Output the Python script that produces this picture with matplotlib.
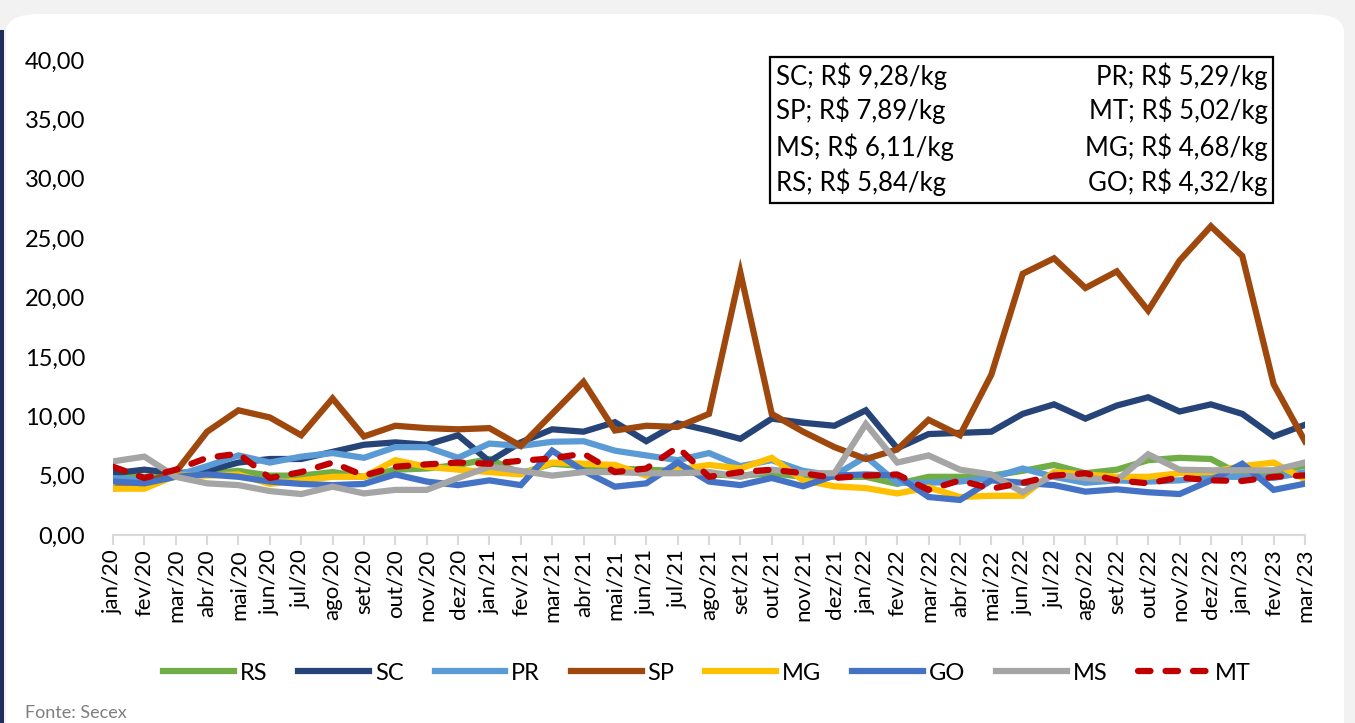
import matplotlib
matplotlib.use("Agg")
import matplotlib.pyplot as plt
from matplotlib.patches import FancyBboxPatch, Rectangle
from matplotlib.ticker import FuncFormatter

plt.rcParams['font.family'] = ['Lato', 'DejaVu Sans']

# meses jan/20 .. mar/23
meses = ['jan/20', 'fev/20', 'mar/20', 'abr/20', 'mai/20', 'jun/20', 'jul/20', 'ago/20',
         'set/20', 'out/20', 'nov/20', 'dez/20',
         'jan/21', 'fev/21', 'mar/21', 'abr/21', 'mai/21', 'jun/21', 'jul/21', 'ago/21',
         'set/21', 'out/21', 'nov/21', 'dez/21',
         'jan/22', 'fev/22', 'mar/22', 'abr/22', 'mai/22', 'jun/22', 'jul/22', 'ago/22',
         'set/22', 'out/22', 'nov/22', 'dez/22',
         'jan/23', 'fev/23', 'mar/23']

RS = [5.0, 4.9, 5.0, 5.2, 5.4, 5.0, 5.0, 5.3, 4.9, 5.5, 5.6, 5.9,
      6.4, 5.2, 6.0, 5.8, 5.6, 5.5, 5.4, 5.1, 5.0, 5.2, 4.9, 4.9,
      4.9, 4.3, 4.9, 4.9, 5.0, 5.4, 5.9, 5.2, 5.5, 6.3, 6.5, 6.4,
      5.0, 5.3, 5.84]
SC = [5.2, 5.5, 5.2, 5.4, 6.1, 6.4, 6.4, 7.0, 7.6, 7.8, 7.6, 8.4,
      6.2, 7.8, 8.9, 8.7, 9.5, 7.9, 9.4, 8.8, 8.1, 9.8, 9.45, 9.2,
      10.5, 7.3, 8.5, 8.6, 8.7, 10.2, 11.0, 9.8, 10.9, 11.6, 10.4, 11.0,
      10.2, 8.3, 9.28]
PR = [4.8, 4.6, 5.0, 5.8, 6.7, 6.1, 6.6, 6.9, 6.5, 7.4, 7.4, 6.5,
      7.7, 7.5, 7.85, 7.9, 7.1, 6.7, 6.3, 6.9, 5.8, 6.3, 5.4, 5.0,
      6.6, 4.4, 4.4, 4.5, 4.8, 5.6, 4.9, 4.4, 4.6, 4.5, 4.6, 4.9,
      4.9, 4.8, 5.29]
SP = [3.9, 4.4, 5.3, 8.7, 10.5, 9.9, 8.4, 11.5, 8.3, 9.2, 9.0, 8.9,
      9.0, 7.5, 10.2, 12.9, 8.8, 9.2, 9.1, 10.2, 22.1, 10.2, 8.7, 7.4,
      6.4, 7.2, 9.7, 8.4, 13.5, 22.0, 23.3, 20.8, 22.2, 18.9, 23.1, 26.0,
      23.5, 12.7, 7.89]
MG = [3.9, 3.9, 5.0, 5.0, 5.1, 4.3, 4.6, 4.9, 4.9, 6.3, 5.75, 5.5,
      5.3, 5.1, 6.1, 6.0, 5.9, 5.0, 5.5, 5.9, 5.6, 6.5, 4.6, 4.1,
      3.95, 3.5, 4.0, 3.2, 3.3, 3.3, 5.3, 5.1, 4.9, 4.9, 5.2, 5.3,
      5.8, 6.1, 4.68]
GO = [4.5, 4.35, 4.9, 5.1, 4.9, 4.5, 4.3, 4.2, 4.3, 5.1, 4.5, 4.2,
      4.6, 4.2, 7.1, 5.4, 4.07, 4.35, 6.1, 4.5, 4.2, 4.8, 4.1, 5.0,
      5.1, 5.0, 3.2, 2.95, 4.6, 4.4, 4.2, 3.65, 3.85, 3.6, 3.45, 4.6,
      6.0, 3.8, 4.32]
MS = [6.2, 6.6, 4.9, 4.35, 4.2, 3.7, 3.45, 4.07, 3.5, 3.8, 3.8, 4.8,
      5.75, 5.4, 5.0, 5.3, 5.3, 5.2, 5.2, 5.3, 4.9, 5.5, 5.2, 5.2,
      9.35, 6.1, 6.7, 5.5, 5.1, 3.6, 5.1, 4.8, 4.6, 6.8, 5.5, 5.45,
      5.45, 5.45, 6.11]
MT = [5.75, 4.8, 5.5, 6.5, 6.85, 4.8, 5.3, 6.1, 5.0, 5.75, 5.95, 6.1,
      6.0, 6.25, 6.45, 6.85, 5.3, 5.6, 7.4, 4.9, 5.3, 5.5, 5.2, 4.8,
      5.0, 5.1, 3.8, 4.6, 3.9, 4.4, 5.0, 5.2, 4.6, 4.35, 4.85, 4.6,
      4.55, 4.9, 5.02]

series = [('RS', RS, '#70AD47'), ('SC', SC, '#264478'), ('PR', PR, '#5B9BD5'),
          ('SP', SP, '#9E480E'), ('MG', MG, '#FFC000'), ('GO', GO, '#4472C4'),
          ('MS', MS, '#A5A5A5'), ('MT', MT, '#C00000')]

caixa_esq = ['SC; R$ 9,28/kg', 'SP; R$ 7,89/kg', 'MS; R$ 6,11/kg', 'RS; R$ 5,84/kg']
caixa_dir = ['PR; R$ 5,29/kg', 'MT; R$ 5,02/kg', 'MG; R$ 4,68/kg', 'GO; R$ 4,32/kg']

W, H = 1355, 723
fig = plt.figure(figsize=(W / 100, H / 100), dpi=100)
fig.patch.set_facecolor('#F2F2F2')

# painel branco arredondado
fig.patches.append(FancyBboxPatch((6 / W, -0.05), 1338 / W, 1.05 - 14 / H,
                                  boxstyle='round,pad=0,rounding_size=0.025',
                                  transform=fig.transFigure, facecolor='white',
                                  edgecolor='none', zorder=-3))
fig.patches.append(Rectangle((0, 0), 4 / W, 1 - 30 / H, transform=fig.transFigure,
                             facecolor='#1F2D5C', edgecolor='none', zorder=-2))

ax = fig.add_axes([113 / W, 1 - 535 / H, (1305 - 113) / W, (535 - 60) / H])
ax.set_facecolor('none')
ax.set_zorder(2)

x = list(range(len(meses)))
for nome, vals, cor in series:
    if nome == 'MT':
        ax.plot(x, vals, color=cor, lw=4.5, ls=(0, (2.0, 2.4)),
                dash_capstyle='round', label=nome, zorder=3)
    else:
        ax.plot(x, vals, color=cor, lw=4.5, solid_joinstyle='miter', label=nome, zorder=2)

ax.set_ylim(0, 40)
ax.set_xlim(0, len(meses) - 1)
ax.set_yticks(range(0, 41, 5))
ax.yaxis.set_major_formatter(FuncFormatter(lambda v, p: f'{v:.2f}'.replace('.', ',')))
ax.set_xticks(x)
ax.set_xticklabels(meses, rotation=90, va='top', ha='center')

for s in ['top', 'right', 'left']:
    ax.spines[s].set_visible(False)
ax.spines['bottom'].set_color('#D9D9D9')
ax.spines['bottom'].set_linewidth(1.5)
ax.spines['bottom'].set_zorder(1)
ax.tick_params(axis='y', length=0, pad=20, labelsize=17)
ax.tick_params(axis='x', length=7, width=1.5, color='#D9D9D9', pad=3, labelsize=16)

leg = fig.legend(loc='center', bbox_to_anchor=(707 / W, 1 - 673 / H), ncol=8, frameon=False,
                 fontsize=17, handlelength=3.0, handletextpad=0.25, columnspacing=1.3)

# caixa de texto
fig.patches.append(Rectangle((770 / W, 1 - 203 / H), (1273 - 770) / W, (203 - 57) / H,
                             transform=fig.transFigure, facecolor='white',
                             edgecolor='black', lw=1.6, zorder=5))
linhas_y = [76, 110, 147, 182]
for i, yy in enumerate(linhas_y):
    fig.text(776 / W, 1 - yy / H, caixa_esq[i], fontsize=18.5, va='center', ha='left', zorder=6)
    fig.text(1268 / W, 1 - yy / H, caixa_dir[i], fontsize=18.5, va='center', ha='right', zorder=6)

fig.text(25 / W, 1 - 713 / H, 'Fonte: Secex', fontsize=13, color='#7F7F7F', va='center', ha='left')

fig.savefig('out.png', dpi=100, facecolor=fig.get_facecolor())
